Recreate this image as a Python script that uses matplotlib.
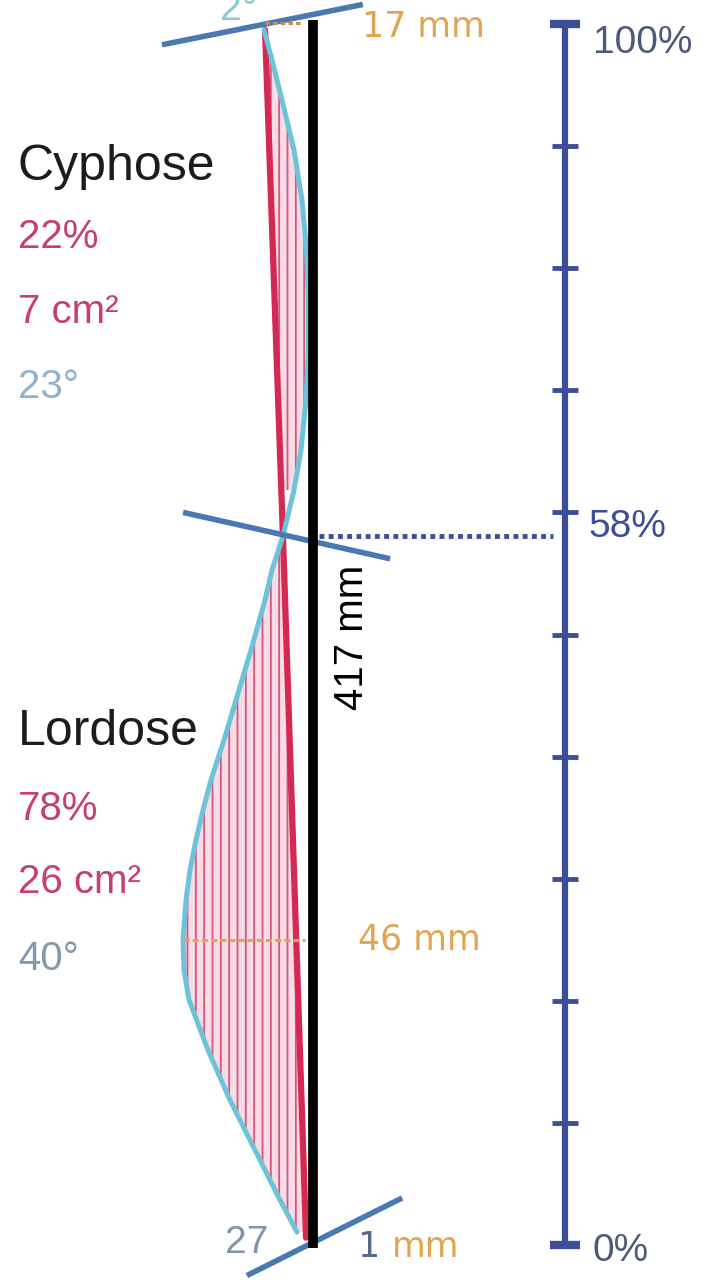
import numpy as np
import matplotlib
matplotlib.use("Agg")
import matplotlib.pyplot as plt

# ---------------- data (x: mm offset from plumb line, y: % of spine height) ----------------
curve_y = [99.51, 97.05, 93.78, 89.68, 85.59, 81.49, 77.40, 73.30, 69.21, 65.11, 61.83, 58.07,
           55.28, 52.83, 48.73, 46.27, 43.82, 41.36, 38.08, 35.63, 33.17, 30.71, 28.26, 24.98,
           22.52, 20.07, 15.97, 11.87, 7.78, 3.69, 1.06]
curve_x = [-16.56, -13.83, -10.42, -6.32, -3.59, -2.05, -1.37, -1.37, -2.22, -3.93, -6.32, -10.08,
           -13.83, -16.22, -21.00, -24.08, -27.15, -30.23, -34.67, -37.40, -39.79, -41.84, -43.20, -44.23,
           -43.89, -42.18, -35.69, -28.18, -19.64, -11.10, -5.29]

chord_y = [99.5, 58.1, 0.6]          # kyphosis / lordosis chords (red)
chord_x = [-16.2, -10.1, -2.2]

inflection_pct = 58
plumb_y = [100.3, -0.25]
plumb_len_mm = 417

endplate_top = ([-51.4, 17.2], [98.3, 101.6])
endplate_mid = ([-44.2, 26.5], [60.0, 56.2])
endplate_bot = ([-22.4, 30.6], [-2.5, 3.85])

kyph_depth_mm = 17
lord_depth_mm = 46
lord_apex_pct = 25.0
lord_apex_x = -44.2

scale_ticks = [0, 10, 20, 30, 40, 50, 60, 70, 80, 90, 100]
scale_labels = {100: "100%", 58: "58%", 0: "0%"}

kyph_info = ["Cyphose", "22%", "7 cm²", "23°"]
lord_info = ["Lordose", "78%", "26 cm²", "40°"]

# ---------------- figure geometry ----------------
W, H = 707, 1280
PX_PER_PCT = 12.21
PX_PER_MM = PX_PER_PCT * 100 / plumb_len_mm
X0, Y0 = 312.5, 1245.0   # pixel position of plumb line / 0 %

def px2x(px):
    return (px - X0) / PX_PER_MM

def px2y(py):
    return (Y0 - py) / PX_PER_PCT

fig = plt.figure(figsize=(W / 100, H / 100), dpi=100)
ax = fig.add_axes([0, 0, 1, 1])
ax.set_xlim(px2x(0), px2x(W))
ax.set_ylim(px2y(H), px2y(0))
ax.axis("off")

plt.rcParams["hatch.linewidth"] = 1.3

RED = "#d42a52"
CYAN = "#6cc3da"
BLUE = "#4a78b0"
NAVY = "#3d4e98"
ORANGE = "#e2a452"
PINK_TXT = "#c8406a"

cy = np.array(curve_y)
cx = np.array(curve_x)
# red chord evaluated at the curve's heights (straight segments between chord points)
red_at = np.interp(cy, chord_y[::-1], chord_x[::-1])

kmask = cy >= chord_y[1]
lmask = cy <= chord_y[1]
for m in (kmask, lmask):
    ax.fill_betweenx(cy[m], red_at[m], cx[m], facecolor="#f9dbe5", edgecolor="#d2567e",
                     hatch="||", linewidth=0, zorder=1)

ax.plot(chord_x, chord_y, color=RED, lw=4.5, solid_capstyle="round", zorder=3)
ax.plot(cx, cy, color=CYAN, lw=3.6, solid_capstyle="round", solid_joinstyle="round", zorder=4)

for xs, ys in (endplate_top, endplate_mid, endplate_bot):
    ax.plot(xs, ys, color=BLUE, lw=4, solid_capstyle="butt", zorder=5)

ax.plot([0, 0], plumb_y, color="black", lw=7, solid_capstyle="butt", zorder=6)

# depth measures
ax.plot([lord_apex_x, lord_apex_x + lord_depth_mm - 4.5], [lord_apex_pct] * 2, color=ORANGE,
        lw=2.2, ls=(0, (2, 1)), zorder=7)
ax.plot([-kyph_depth_mm + 0.8, -3.2], [100.1, 100.1], color="#c48f5c", lw=2.2,
        ls=(0, (1.5, 1)), zorder=7)

# scale bar
SB = px2x(565)
ax.plot([SB, SB], [0, 100], color=NAVY, lw=4.5, solid_capstyle="butt", zorder=5)
for t in scale_ticks:
    if t in (0, 100):
        ax.plot([SB - 5.1, SB + 5.1], [t, t], color=NAVY, lw=6, solid_capstyle="butt", zorder=5)
    else:
        ax.plot([SB - 4.4, SB + 4.4], [t, t], color=NAVY, lw=3.5, solid_capstyle="butt", zorder=5)

ax.plot([px2x(319), px2x(553)], [inflection_pct + 0.1] * 2, color=NAVY, lw=3.5,
        ls=(0, (1, 0.9)), zorder=7)

# ---------------- text ----------------
ARIAL = ["Liberation Sans", "DejaVu Sans"]
DJV = ["DejaVu Sans"]

def txt(px, py, s, size, color, fam=ARIAL, va="baseline", ha="left", **kw):
    ax.text(px2x(px), px2y(py), s, fontsize=size, color=color, family=fam,
            va=va, ha=ha, zorder=10, **kw)

group_cols = ["#1c1c1c", PINK_TXT, PINK_TXT]
for info, bases, angle_col in ((kyph_info, [180, 248, 323, 398], "#8fb3cc"),
                               (lord_info, [745, 820, 893, 970], "#8498ad")):
    txt(18, bases[0], info[0], 36, group_cols[0])
    txt(18, bases[1], info[1], 29, group_cols[1])
    txt(18, bases[2], info[2], 29, group_cols[2])
    txt(18, bases[3], info[3], 29, angle_col)

txt(362, 37, f"{kyph_depth_mm} mm", 25, ORANGE, fam=DJV)
txt(358, 940, f"{lord_depth_mm} mm", 25, ORANGE, fam=DJV, va="center")
txt(357, 1257, "1", 25, "#56688c", fam=DJV)
txt(392, 1257, "mm", 25, ORANGE, fam=DJV)
txt(225, 1253, "27", 28, "#8294ac")
txt(220, 20, "2°", 28, "#90c8cc")

ax.text(px2x(352), px2y(637), f"{plumb_len_mm} mm", rotation=90, fontsize=29,
        color="black", family=ARIAL, ha="center", va="center", zorder=10)

label_pos = {100: (593, 43, "#4e5a78"), 58: (588, 527, NAVY), 0: (592, 1251, "#4e5a78")}
for k, s in scale_labels.items():
    px, py, col = label_pos[k]
    txt(px, py, s, 28, col, va="center")

fig.savefig("out.png", dpi=100, facecolor="white")
